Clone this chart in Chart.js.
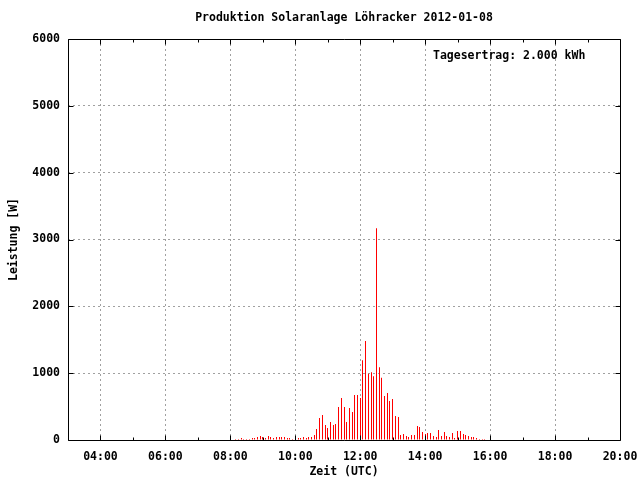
<!DOCTYPE html>
<html>
<head>
<meta charset="utf-8">
<script src="https://cdn.jsdelivr.net/npm/chart.js@4.4.1/dist/chart.umd.min.js"></script>
<style>
  html, body { margin: 0; padding: 0; background: #fff; }
  canvas { display: block; }
</style>
</head>
<body>
<canvas id="myChart" width="640" height="480"></canvas>
<script>
// 5-minute readings (UTC) and power in W
var times = [
    '08:10','08:15','08:20','08:25','08:30','08:35','08:40','08:45','08:50','08:55',
    '09:00','09:05','09:10','09:15','09:20','09:25','09:30','09:35','09:40','09:45','09:50','09:55',
    '10:00','10:05','10:10','10:15','10:20','10:25','10:30','10:35','10:40','10:45','10:50','10:55',
    '11:00','11:05','11:10','11:15','11:20','11:25','11:30','11:35','11:40','11:45','11:50','11:55',
    '12:00','12:05','12:10','12:15','12:20','12:25','12:30','12:35','12:40','12:45','12:50','12:55',
    '13:00','13:05','13:10','13:15','13:20','13:25','13:30','13:35','13:40','13:45','13:50','13:55',
    '14:00','14:05','14:10','14:15','14:20','14:25','14:30','14:35','14:40','14:45','14:50','14:55',
    '15:00','15:05','15:10','15:15','15:20','15:25','15:30','15:35','15:40','15:45','15:50'
];
var power = [
    15, 15, 30, 15, 15, 15, 30, 30, 45, 60,
    45, 30, 60, 45, 30, 45, 45, 45, 45, 30, 30, 15,
    30, 30, 30, 45, 30, 45, 45, 75, 165, 330, 375, 225,
    180, 270, 225, 240, 495, 630, 495, 270, 480, 420, 675, 675,
    630, 1195, 1480, 990, 1015, 955, 3170, 1090, 930, 660, 705, 585,
    615, 360, 345, 75, 90, 60, 45, 75, 75, 210, 195, 120,
    90, 105, 105, 60, 45, 150, 60, 120, 60, 45, 105, 30,
    135, 135, 90, 75, 60, 45, 45, 30, 15, 15, 15
];
var xTicks = [4, 6, 8, 10, 12, 14, 16, 18, 20];
var yTicks = [0, 1000, 2000, 3000, 4000, 5000, 6000];

var title = 'Produktion Solaranlage Löhracker 2012-01-08';
var note = 'Tagesertrag: 2.000 kWh';

var font = { family: '"DejaVu Sans Mono", monospace', size: 11.5, weight: 'bold' };
var fontStr = 'bold 11.5px "DejaVu Sans Mono", monospace';

function toHours(t) {
    var p = t.split(':');
    return +p[0] + (+p[1]) / 60;
}
function hhmm(v) {
    return (v < 10 ? '0' : '') + v + ':00';
}

var points = times.map(function (t, i) { return { x: toHours(t), y: power[i] }; });

// snap the 1px impulses to whole pixels so they stay crisp
var snap = {
    id: 'snap',
    beforeDatasetsDraw: function (chart) {
        chart.getDatasetMeta(0).data.forEach(function (el) {
            el.x = Math.floor(el.x) + 0.5;
        });
    }
};

// gnuplot-like frame, mirrored tics, title and label
var frame = {
    id: 'frame',
    afterDatasetsDraw: function (chart) {
        var ctx = chart.ctx, a = chart.chartArea;
        var xs = chart.scales.x, ys = chart.scales.y;
        var l = Math.round(a.left) + 0.5, r = Math.round(a.right) + 0.5;
        var t = Math.round(a.top) + 0.5, b = Math.round(a.bottom) + 0.5;
        ctx.save();
        ctx.strokeStyle = '#000';
        ctx.lineWidth = 1;
        ctx.beginPath();
        ctx.rect(l, t, r - l, b - t);
        for (var h = 4; h < 20; h++) {
            var len = h % 2 === 0 ? 5 : 3;
            var px = Math.round(xs.getPixelForValue(h)) + 0.5;
            ctx.moveTo(px, b); ctx.lineTo(px, b - len);
            ctx.moveTo(px, t); ctx.lineTo(px, t + len);
        }
        yTicks.forEach(function (v) {
            var py = Math.round(ys.getPixelForValue(v)) + 0.5;
            ctx.moveTo(l, py); ctx.lineTo(l + 5, py);
            ctx.moveTo(r, py); ctx.lineTo(r - 5, py);
        });
        ctx.stroke();

        ctx.fillStyle = '#000';
        ctx.font = fontStr;
        ctx.textBaseline = 'middle';
        ctx.textAlign = 'center';
        ctx.fillText(title, (a.left + a.right) / 2, 18);
        ctx.textAlign = 'left';
        ctx.fillText(note, a.right - 187, a.top + 17);
        ctx.restore();
    }
};

var ctx = document.getElementById('myChart').getContext('2d');
var chart = new Chart(ctx, {
    type: 'bar',
    data: {
        datasets: [{
            data: points,
            backgroundColor: '#ff0000',
            borderWidth: 0,
            barThickness: 1,
            inflateAmount: 0
        }]
    },
    options: {
        responsive: false,
        animation: false,
        layout: { padding: { left: 0, right: 20, top: 39, bottom: 0 } },
        plugins: {
            legend: { display: false },
            tooltip: { enabled: false },
            title: { display: false }
        },
        scales: {
            x: {
                type: 'linear',
                min: 3,
                max: 20,
                offset: false,
                afterBuildTicks: function (s) {
                    s.ticks = xTicks.map(function (v) { return { value: v }; });
                },
                afterFit: function (s) {
                    s.height = 40;
                    s.paddingLeft = 0;
                    s.paddingRight = 0;
                },
                ticks: {
                    callback: function (v) { return hhmm(v); },
                    autoSkip: false,
                    maxRotation: 0,
                    padding: 10,
                    color: '#000',
                    font: font
                },
                grid: { color: '#a0a0a0', drawTicks: false, lineWidth: 1, offset: false },
                border: { display: false, dash: [2, 3] },
                title: {
                    display: true,
                    text: 'Zeit (UTC)',
                    color: '#000',
                    font: font,
                    padding: { top: 0, bottom: 1 }
                }
            },
            y: {
                min: 0,
                max: 6000,
                afterBuildTicks: function (s) {
                    s.ticks = yTicks.map(function (v) { return { value: v }; });
                },
                afterFit: function (s) { s.width = 68; },
                ticks: {
                    callback: function (v) { return String(v); },
                    padding: 8,
                    color: '#000',
                    font: font
                },
                grid: { color: '#a0a0a0', drawTicks: false, lineWidth: 1 },
                border: { display: false, dash: [2, 3] },
                title: {
                    display: true,
                    text: 'Leistung [W]',
                    color: '#000',
                    font: font,
                    padding: { top: 7, bottom: 0 }
                }
            }
        }
    },
    plugins: [snap, frame]
});
</script>
</body>
</html>
